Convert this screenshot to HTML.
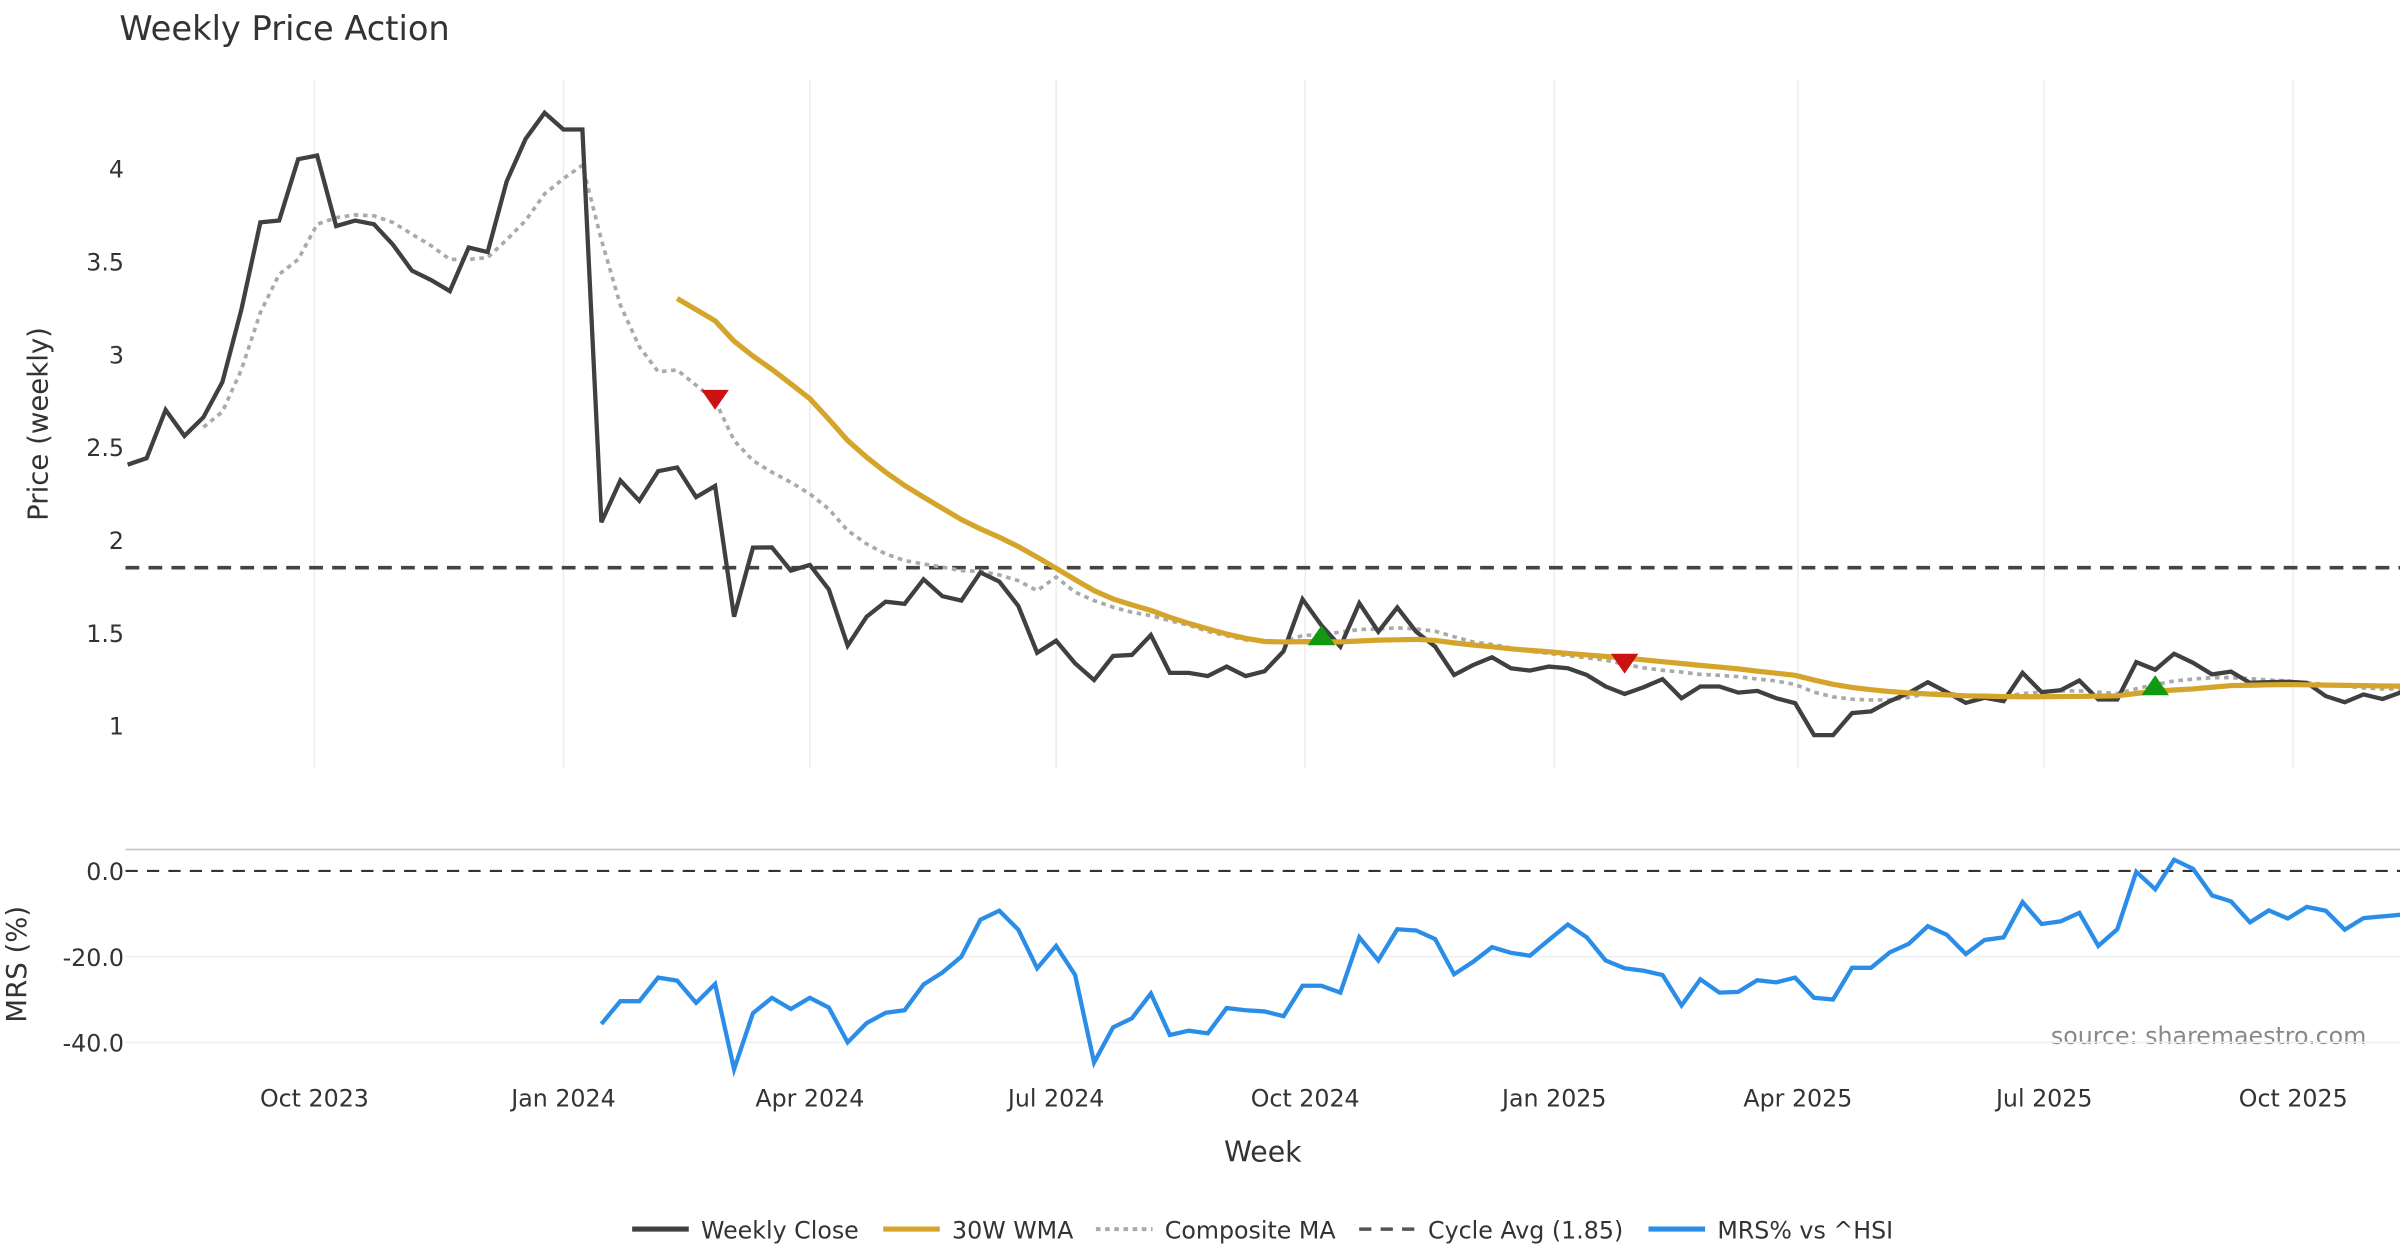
<!DOCTYPE html>
<html><head><meta charset="utf-8"><title>Weekly Price Action</title>
<style>
html,body{margin:0;padding:0;background:#fff;}
svg{display:block;font-family:"DejaVu Sans","Liberation Sans",sans-serif;}
</style></head>
<body>
<svg id="chart" width="2400" height="1260" viewBox="0 0 1568 823.2" xmlns="http://www.w3.org/2000/svg">
<rect x="0" y="0" width="1568" height="823.2" fill="#fff"/>
<text x="78" y="26" font-size="22" fill="#333">Weekly Price Action</text>
<text transform="translate(31,277) rotate(-90)" text-anchor="middle" font-size="18" fill="#333">Price (weekly)</text>
<text transform="translate(17,630) rotate(-90)" text-anchor="middle" font-size="18" fill="#333">MRS (%)</text>
<text x="825" y="759" text-anchor="middle" font-size="18.5" fill="#333">Week</text>
<text x="1546" y="682" text-anchor="end" font-size="15.5" fill="#888">source: sharemaestro.com</text>
<g id="grid"></g>
<g id="series"></g>
<g id="legend"></g>
</svg>
<script>
const startDate = "2023-07-24";
const xTickLabels = ["Oct 2023","Jan 2024","Apr 2024","Jul 2024","Oct 2024","Jan 2025","Apr 2025","Jul 2025","Oct 2025"];
const xTickDates = ["2023-10-01","2024-01-01","2024-04-01","2024-07-01","2024-10-01","2025-01-01","2025-04-01","2025-07-01","2025-10-01"];
const priceTicks = [1,1.5,2,2.5,3,3.5,4];
const priceTickLabels = ["1","1.5","2","2.5","3","3.5","4"];
const mrsTicks = [0,-20,-40];
const mrsTickLabels = ["0.0","-20.0","-40.0"];
const cycleAvg = 1.85;
const weeklyClose = [2.405,2.44,2.70,2.56,2.66,2.85,3.24,3.71,3.72,4.05,4.07,3.69,3.72,3.70,3.59,3.45,3.40,3.34,3.575,3.55,3.93,4.16,4.30,4.21,4.21,2.095,2.32,2.21,2.37,2.39,2.23,2.29,1.586,1.958,1.96,1.834,1.865,1.733,1.43,1.586,1.667,1.655,1.787,1.697,1.673,1.824,1.775,1.644,1.392,1.457,1.335,1.245,1.374,1.38,1.487,1.284,1.284,1.266,1.317,1.266,1.293,1.40,1.68,1.54,1.425,1.659,1.505,1.636,1.505,1.425,1.272,1.326,1.368,1.308,1.296,1.317,1.308,1.272,1.21,1.17,1.206,1.25,1.147,1.21,1.21,1.177,1.186,1.147,1.12,0.948,0.948,1.067,1.076,1.131,1.176,1.233,1.18,1.122,1.149,1.131,1.284,1.18,1.19,1.242,1.14,1.14,1.341,1.30,1.387,1.338,1.275,1.29,1.23,1.233,1.236,1.23,1.158,1.125,1.167,1.143,1.18];
const wmaStart = 29;
const wma30 = [3.30,3.24,3.18,3.07,2.99,2.918,2.84,2.76,2.65,2.535,2.445,2.364,2.293,2.23,2.17,2.109,2.059,2.014,1.964,1.907,1.847,1.786,1.726,1.682,1.65,1.62,1.583,1.55,1.52,1.493,1.47,1.453,1.45,1.452,1.451,1.45,1.455,1.46,1.462,1.464,1.458,1.445,1.434,1.424,1.413,1.405,1.397,1.388,1.38,1.372,1.364,1.354,1.344,1.334,1.324,1.315,1.305,1.293,1.282,1.27,1.245,1.222,1.205,1.193,1.183,1.176,1.17,1.165,1.16,1.158,1.156,1.155,1.155,1.156,1.157,1.158,1.16,1.172,1.185,1.191,1.197,1.206,1.215,1.217,1.219,1.22,1.219,1.218,1.216,1.215,1.213,1.212];
const compStart = 4;
const compositeMA = [2.607,2.69,2.916,3.224,3.43,3.51,3.70,3.735,3.75,3.745,3.71,3.646,3.585,3.51,3.51,3.52,3.616,3.72,3.863,3.946,4.017,3.616,3.265,3.04,2.905,2.915,2.833,2.75,2.535,2.427,2.364,2.31,2.247,2.166,2.05,1.978,1.924,1.889,1.87,1.853,1.834,1.83,1.811,1.78,1.726,1.80,1.718,1.673,1.637,1.61,1.592,1.565,1.54,1.506,1.484,1.462,1.453,1.45,1.485,1.49,1.503,1.517,1.52,1.526,1.52,1.508,1.478,1.45,1.437,1.418,1.40,1.388,1.377,1.364,1.352,1.329,1.311,1.298,1.288,1.275,1.27,1.263,1.251,1.24,1.221,1.18,1.154,1.142,1.138,1.138,1.152,1.172,1.176,1.16,1.156,1.156,1.172,1.18,1.186,1.186,1.18,1.172,1.198,1.221,1.24,1.25,1.258,1.258,1.252,1.245,1.24,1.23,1.221,1.213,1.203,1.197,1.197];
const mrsStart = 25;
const mrsValues = [-35.7,-30.4,-30.4,-24.9,-25.6,-30.8,-26.4,-46.3,-33.2,-29.6,-32.2,-29.6,-31.9,-40.0,-35.5,-33.1,-32.5,-26.5,-23.7,-20.0,-11.4,-9.3,-13.7,-22.7,-17.5,-24.3,-44.7,-36.5,-34.4,-28.6,-38.3,-37.3,-37.9,-32.0,-32.5,-32.8,-33.9,-26.8,-26.8,-28.4,-15.5,-20.9,-13.6,-13.9,-15.9,-24.1,-21.2,-17.8,-19.1,-19.8,-16.1,-12.5,-15.5,-20.9,-22.7,-23.3,-24.3,-31.4,-25.3,-28.4,-28.2,-25.5,-26.0,-24.9,-29.6,-30.0,-22.6,-22.6,-19.0,-17.0,-12.9,-14.9,-19.4,-16.1,-15.5,-7.3,-12.4,-11.8,-9.8,-17.5,-13.6,-0.2,-4.3,2.6,0.5,-5.7,-7.1,-12.0,-9.2,-11.1,-8.4,-9.3,-13.7,-11.0,-10.6,-10.2];
const sellSignals = [31,79];
const buySignals = [63,107];

const NS = "http://www.w3.org/2000/svg";
const X0 = 83.4, WEEK = 12.38, PL = 82, PR = 1568;
function xIdx(i){ return X0 + i*WEEK; }
function xDate(s){ const d=(new Date(s+"T00:00:00Z")-new Date(startDate+"T00:00:00Z"))/86400000; return X0 + d/7*WEEK; }
function yP(v){ return 474 - (v-1)*121.3; }
function yM(v){ return 569 - v*2.8; }
function mk(tag, attrs, parent){ const e=document.createElementNS(NS,tag); for(const k in attrs) e.setAttribute(k,attrs[k]); parent.appendChild(e); return e; }
const grid=document.getElementById('grid'), ser=document.getElementById('series'), leg=document.getElementById('legend');

xTickDates.forEach((d,k)=>{
  const x=xDate(d);
  const gl=mk('line',{x1:x,x2:x,y1:52,y2:502,stroke:'#ebedf0','stroke-width':1},grid);
  
  
  const t=mk('text',{x:x,y:723,'text-anchor':'middle','font-size':15.5,fill:'#333'},grid);
  t.textContent=xTickLabels[k];
  
  
});
priceTicks.forEach((v,k)=>{
  const t=mk('text',{x:81,y:yP(v)+6,'text-anchor':'end','font-size':15.5,fill:'#333'},grid);
  t.textContent=priceTickLabels[k];
  
  
});
const sep=mk('line',{x1:PL,x2:PR,y1:555,y2:555,stroke:'#c8c8c8','stroke-width':1.2},grid);


mrsTicks.forEach((v,k)=>{
  if(v!==0){
    const gl=mk('line',{x1:PL,x2:PR,y1:yM(v),y2:yM(v),stroke:'#eceef1','stroke-width':1},grid);
    
    
  }
  const t=mk('text',{x:81,y:yM(v)+6,'text-anchor':'end','font-size':15.5,fill:'#333'},grid);
  t.textContent=mrsTickLabels[k];
  
  
});
const zl=mk('line',{x1:PL,x2:PR,y1:yM(0),y2:yM(0),stroke:'#333','stroke-width':1.4,'stroke-dasharray':'8,6'},grid);


const ca=mk('line',{x1:PL,x2:PR,y1:yP(cycleAvg),y2:yP(cycleAvg),stroke:'#444','stroke-width':2.3,'stroke-dasharray':'9,6'},ser);



function pts(arr,start,yf){ return arr.map((v,i)=>xIdx(start+i).toFixed(1)+','+yf(v).toFixed(1)).join(' '); }
const cm=mk('polyline',{points:pts(compositeMA,compStart,yP),fill:'none',stroke:'#aaa','stroke-width':2.4,'stroke-dasharray':'3,3'},ser);


const wc=mk('polyline',{points:pts(weeklyClose,0,yP),fill:'none',stroke:'#404040','stroke-width':2.8,'stroke-linejoin':'miter'},ser);


const wm=mk('polyline',{points:pts(wma30,wmaStart,yP),fill:'none',stroke:'#d4a52a','stroke-width':3.4},ser);


const mr=mk('polyline',{points:pts(mrsValues,mrsStart,yM),fill:'none',stroke:'#2a8de8','stroke-width':2.8},ser);



sellSignals.forEach(i=>{
  const x=xIdx(i), y=yP(compositeMA[i-compStart]);
  const p=mk('polygon',{points:`${x-9},${y-7} ${x+9},${y-7} ${x},${y+6}`,fill:'#cc1111'},ser);
  
  
});
buySignals.forEach(i=>{
  const x=xIdx(i), y=yP(compositeMA[i-compStart]);
  const p=mk('polygon',{points:`${x-9},${y+7} ${x+9},${y+7} ${x},${y-6}`,fill:'#119911'},ser);
  
  
});

const legendItems = [
  {x:413,label:'Weekly Close',stroke:'#404040',w:3.4,dash:''},
  {x:577,label:'30W WMA',stroke:'#d4a52a',w:3.4,dash:''},
  {x:716,label:'Composite MA',stroke:'#aaa',w:2.6,dash:'3,3'},
  {x:888,label:'Cycle Avg (1.85)',stroke:'#555',w:2.3,dash:'8,6'},
  {x:1077,label:'MRS% vs ^HSI',stroke:'#2a8de8',w:3.4,dash:''}
];
legendItems.forEach(it=>{
  const l=mk('line',{x1:it.x,x2:it.x+37,y1:803,y2:803,stroke:it.stroke,'stroke-width':it.w,'stroke-dasharray':it.dash||'none'},leg);
  
  
  const t=mk('text',{x:it.x+45,y:809,'font-size':15.5,fill:'#333'},leg);
  t.textContent=it.label;
  
  
});
</script>
</body></html>
